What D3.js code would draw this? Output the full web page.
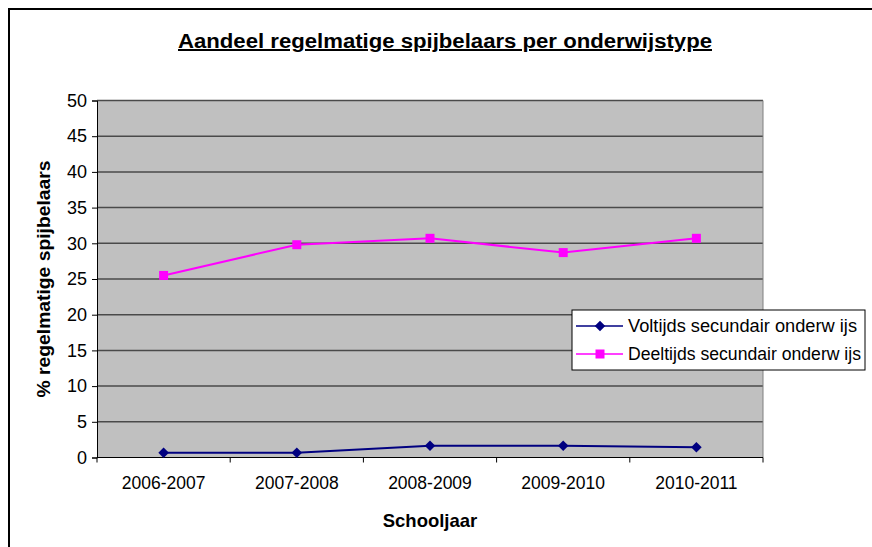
<!DOCTYPE html>
<html>
<head>
<meta charset="utf-8">
<script src="https://cdn.jsdelivr.net/npm/d3@7"></script>
<style>
  body { margin: 0; background: #fff; }
  text { font-family: "Liberation Sans", Arial, sans-serif; }
</style>
</head>
<body>
<svg id="chart"></svg>
<script>
// Data
const schooljaren = ["2006-2007", "2007-2008", "2008-2009", "2009-2010", "2010-2011"];
const voltijds = [0.67, 0.67, 1.65, 1.65, 1.43];
const deeltijds = [25.5, 29.8, 30.7, 28.7, 30.7];
const yTicks = [0, 5, 10, 15, 20, 25, 30, 35, 40, 45, 50];
const seriesNames = ["Voltijds secundair onderw ijs", "Deeltijds secundair onderw ijs"];

const W = 872, H = 547;
const margin = { top: 100.5, right: 109, bottom: 89.5, left: 97 };
const width = W - margin.left - margin.right,
  height = H - margin.top - margin.bottom;

const root = d3.select("#chart").attr("width", W).attr("height", H);

// outer frame (only top and left visible)
root.append("path")
  .attr("d", `M9,${H} L9,9 L${W},9`)
  .attr("fill", "none")
  .attr("stroke", "#000")
  .attr("stroke-width", 2);

// title
root.append("text")
  .attr("x", 445)
  .attr("y", 48)
  .attr("text-anchor", "middle")
  .attr("font-size", 20)
  .attr("font-weight", "bold")
  .attr("text-decoration", "underline")
  .attr("textLength", 534)
  .attr("lengthAdjust", "spacingAndGlyphs")
  .text("Aandeel regelmatige spijbelaars per onderwijstype");

const svg = root.append("g")
  .attr("transform", `translate(${margin.left},${margin.top})`);

const x = d3.scaleBand().domain(schooljaren).range([0, width]);
const y = d3.scaleLinear().domain([0, 50]).range([height, 0]);

// plot background
svg.append("rect")
  .attr("width", width)
  .attr("height", height)
  .attr("fill", "#c0c0c0");

// grid lines
svg.append("g")
  .selectAll("line")
  .data(yTicks.filter(d => d > 0))
  .join("line")
  .attr("x1", 0)
  .attr("x2", width)
  .attr("y1", d => y(d))
  .attr("y2", d => y(d))
  .attr("stroke", "#4a4a4a")
  .attr("stroke-width", 1.5);

// right border of plot
svg.append("line")
  .attr("x1", width).attr("x2", width)
  .attr("y1", 0).attr("y2", height)
  .attr("stroke", "#808080");

// y axis
const yAxis = svg.append("g")
  .call(d3.axisLeft(y).tickValues(yTicks).tickSize(5).tickPadding(5));
yAxis.select(".domain").attr("stroke", "#000");
yAxis.selectAll("text").attr("font-size", 18).attr("fill", "#000")
  .attr("font-family", "Liberation Sans, Arial, sans-serif");

// x axis: ticks on category boundaries
const xAxis = svg.append("g").attr("transform", `translate(0,${height})`);
xAxis.append("line")
  .attr("x1", 0).attr("x2", width)
  .attr("stroke", "#000");
xAxis.selectAll("line.tick")
  .data(d3.range(schooljaren.length + 1))
  .join("line")
  .attr("class", "tick")
  .attr("x1", i => i * x.bandwidth())
  .attr("x2", i => i * x.bandwidth())
  .attr("y1", 0)
  .attr("y2", 5)
  .attr("stroke", "#000");
xAxis.selectAll("text")
  .data(schooljaren)
  .join("text")
  .attr("x", d => x(d) + x.bandwidth() / 2)
  .attr("y", 31)
  .attr("text-anchor", "middle")
  .attr("font-size", 17.5)
  .text(d => d);

// axis titles
root.append("text")
  .attr("x", margin.left + width / 2)
  .attr("y", 527)
  .attr("text-anchor", "middle")
  .attr("font-size", 18.5)
  .attr("font-weight", "bold")
  .text("Schooljaar");

root.append("text")
  .attr("transform", `translate(50,${margin.top + height / 2}) rotate(-90)`)
  .attr("text-anchor", "middle")
  .attr("font-size", 19)
  .attr("font-weight", "bold")
  .attr("textLength", 237)
  .attr("lengthAdjust", "spacingAndGlyphs")
  .text("% regelmatige spijbelaars");

// lines
const line = d3.line()
  .x((d, i) => x(schooljaren[i]) + x.bandwidth() / 2)
  .y(d => y(d));

const series = [
  { name: seriesNames[0], values: voltijds, color: "#000080", rot: 45, size: 56 },
  { name: seriesNames[1], values: deeltijds, color: "#ff00ff", rot: 0, size: 81 }
];

series.forEach(s => {
  svg.append("path")
    .datum(s.values)
    .attr("fill", "none")
    .attr("stroke", s.color)
    .attr("stroke-width", 2)
    .attr("d", line);

  svg.selectAll(null)
    .data(s.values)
    .join("path")
    .attr("transform", (d, i) => `translate(${x(schooljaren[i]) + x.bandwidth() / 2},${y(d)}) rotate(${s.rot})`)
    .attr("d", d3.symbol().type(d3.symbolSquare).size(s.size))
    .attr("fill", s.color);
});

// legend
const legend = root.append("g").attr("transform", "translate(572,310)");
legend.append("rect")
  .attr("width", 293)
  .attr("height", 60)
  .attr("fill", "#fff")
  .attr("stroke", "#000");

series.forEach((s, i) => {
  const row = legend.append("g").attr("transform", `translate(0,${16 + i * 28})`);
  row.append("line")
    .attr("x1", 4).attr("x2", 51)
    .attr("stroke", s.color)
    .attr("stroke-width", 1.5);
  row.append("path")
    .attr("transform", `translate(28,0) rotate(${s.rot})`)
    .attr("d", d3.symbol().type(d3.symbolSquare).size(s.size))
    .attr("fill", s.color);
  row.append("text")
    .attr("x", 56)
    .attr("y", 6)
    .attr("font-size", 17.5)
    .attr("textLength", i === 0 ? 229 : 233)
    .attr("lengthAdjust", "spacingAndGlyphs")
    .text(s.name);
});
</script>
</body>
</html>
